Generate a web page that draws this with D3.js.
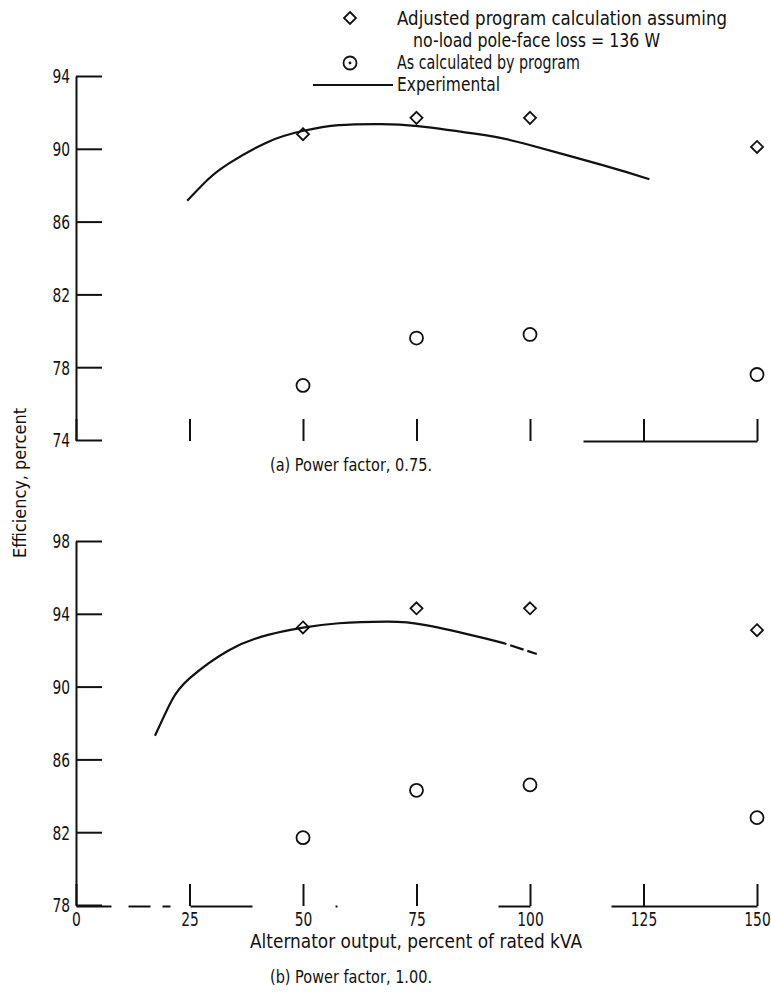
<!DOCTYPE html>
<html lang="en">
<head>
<meta charset="UTF-8">
<title>Efficiency vs alternator output</title>
<style>
    body { margin: 0; background: #fff; }
    svg text { font-family: "DejaVu Sans", sans-serif; fill: #111; }
    .axis path, .axis line { stroke: #111; stroke-width: 2; }
    .axis text { font-size: 19px; }
    .exp { fill: none; stroke: #111; stroke-width: 2.2; }
    .mark { fill: none; stroke: #111; stroke-width: 1.8; }
</style>
</head>
<body>
<svg width="771" height="995"></svg>
<script src="https://cdn.jsdelivr.net/npm/d3@7/dist/d3.min.js"></script>
<script>

    // calculated points (percent of rated kVA)
    var loads = [50, 75, 100, 150];

    // (a) power factor 0.75
    var adjustedA = [90.8, 91.7, 91.7, 90.1];
    var programA = [77.0, 79.6, 79.8, 77.6];
    var expA_x = [24.5, 29, 33.7, 42.3, 50.1, 57.9, 66.6, 75.3, 90.1, 98.7, 116, 126.3];
    var expA_y = [87.15, 88.3, 89.2, 90.38, 90.99, 91.3, 91.36, 91.25, 90.75, 90.29, 89.1, 88.33];

    // (b) power factor 1.00
    var adjustedB = [93.25, 94.3, 94.3, 93.1];
    var programB = [81.7, 84.3, 84.6, 82.8];
    var expB_x = [17.4, 21, 25, 33.7, 42.3, 50, 57.9, 68.3, 77, 90.1, 94.8, 101.8];
    var expB_y = [87.3, 89.2, 90.45, 92.0, 92.84, 93.24, 93.48, 93.57, 93.38, 92.65, 92.34, 91.77];
    var expB_dashFrom = 10; // curve is dashed past this point

    var xTicks = [0, 25, 50, 75, 100, 125, 150];
    var yTicksA = [74, 78, 82, 86, 90, 94];
    var yTicksB = [78, 82, 86, 90, 94, 98];

    var svg = d3.select("svg");

    var x = d3.scaleLinear().domain([0, 150]).range([76, 757]);
    var yA = d3.scaleLinear().domain([74, 94]).range([440, 76]);
    var yB = d3.scaleLinear().domain([78, 98]).range([905, 541]);

    function diamond(g, cx, cy, r) {
        g.append("path")
            .attr("class", "mark")
            .attr("d", "M" + cx + "," + (cy - r) + "L" + (cx + r) + "," + cy +
                "L" + cx + "," + (cy + r) + "L" + (cx - r) + "," + cy + "Z");
    }

    // squeezed text so the tall narrow lettering fits its width
    function label(parent, tx, ty, size, len, str, anchor) {
        return parent.append("text")
            .attr("x", tx).attr("y", ty)
            .attr("text-anchor", anchor || "start")
            .attr("textLength", len)
            .attr("lengthAdjust", "spacingAndGlyphs")
            .style("font-size", size + "px")
            .text(str);
    }

    function narrowDigits(sel) {
        sel.attr("lengthAdjust", "spacingAndGlyphs")
            .attr("textLength", function() { return this.textContent.length * 8.8; });
    }

    function zip(xs, ys) {
        return xs.map(function(d, i) { return [d, ys[i]]; });
    }

    function panel(y, yTicks, adjusted, program, expPts, showLabels, dashAxis) {
        var g = svg.append("g");

        g.append("g")
            .attr("class", "axis")
            .attr("transform", "translate(" + x(0) + ",0)")
            .call(d3.axisLeft(y).tickValues(yTicks).tickSize(-26).tickSizeOuter(0).tickPadding(6))
            .call(function(a) { a.selectAll("text").attr("dy", "0.36em").call(narrowDigits); });

        var xa = g.append("g")
            .attr("class", "axis")
            .attr("transform", "translate(0," + (y.range()[0] + 1) + ")")
            .call(d3.axisBottom(x).tickValues(xTicks).tickSize(-22).tickSizeOuter(0).tickPadding(7)
                .tickFormat(showLabels ? d3.format("d") : function() { return ""; }));
        if (showLabels) xa.selectAll("text").call(narrowDigits);
        xa.select(".domain")
            .attr("stroke-width", 1.5)
            .attr("stroke-dasharray", dashAxis);

        var line = d3.line()
            .x(function(d) { return x(d[0]); })
            .y(function(d) { return y(d[1]); })
            .curve(d3.curveNatural);

        g.append("path").attr("class", "exp").attr("d", line(expPts.solid));
        if (expPts.dashed) {
            g.append("path").attr("class", "exp")
                .attr("stroke-dasharray", "0,4,14,4,10,40")
                .attr("d", line(expPts.dashed));
        }

        loads.forEach(function(l, i) {
            diamond(g, x(l), y(adjusted[i]), 6);
            g.append("circle").attr("class", "mark")
                .attr("stroke-width", 2)
                .attr("cx", x(l)).attr("cy", y(program[i])).attr("r", 6.5);
        });
        return g;
    }

    var ptsA = zip(expA_x, expA_y);
    panel(yA, yTicksA, adjustedA, programA, { solid: ptsA }, false, "0,507,174,0");

    var ptsB = zip(expB_x, expB_y);
    panel(yB, yTicksB, adjustedB, programB,
        { solid: ptsB.slice(0, expB_dashFrom + 1), dashed: ptsB.slice(expB_dashFrom) },
        true, "35,17,22,12,8,20,62,83,2,161,32,81,146,0");

    // texts
    label(svg, 351, 471, 18, 162, "(a) Power factor, 0.75.", "middle");
    label(svg, 351, 983, 18, 162, "(b) Power factor, 1.00.", "middle");
    label(svg, 416, 948, 20, 332, "Alternator output, percent of rated kVA", "middle");
    svg.append("text").attr("transform", "translate(26,483) rotate(-90)").attr("text-anchor", "middle")
        .attr("textLength", 150).attr("lengthAdjust", "spacingAndGlyphs")
        .style("font-size", "17px").text("Efficiency, percent");

    // legend
    var lg = svg.append("g");
    diamond(lg, 350, 18, 6);
    label(lg, 397, 25, 20, 330, "Adjusted program calculation assuming");
    label(lg, 413, 47, 20, 247, "no-load pole-face loss = 136 W");
    lg.append("circle").attr("class", "mark").attr("cx", 350).attr("cy", 63).attr("r", 6.5);
    lg.append("circle").attr("cx", 350).attr("cy", 63).attr("r", 1.4).attr("fill", "#111");
    label(lg, 397, 69, 20, 183, "As calculated by program");
    lg.append("line").attr("x1", 313).attr("x2", 393).attr("y1", 85).attr("y2", 85)
        .attr("stroke", "#111").attr("stroke-width", 2);
    label(lg, 397, 91, 20, 103, "Experimental");

</script>
</body>
</html>
